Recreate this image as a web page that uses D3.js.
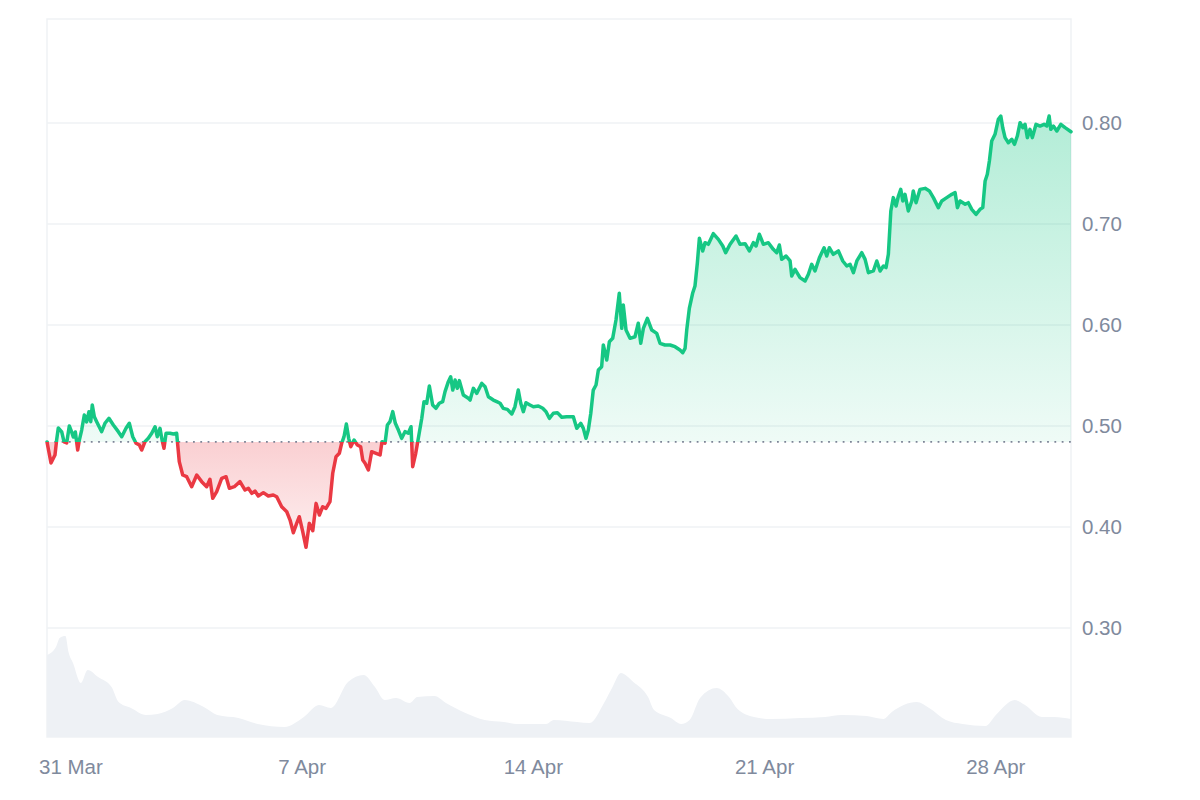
<!DOCTYPE html>
<html>
<head>
<meta charset="utf-8">
<script src="https://cdn.jsdelivr.net/npm/d3@7/dist/d3.min.js"></script>
<style>
  html, body { margin: 0; padding: 0; background: #ffffff; }
  svg { display: block; font-family: "Liberation Sans", Arial, sans-serif; }
</style>
</head>
<body>
<svg id="chart" width="1200" height="800"></svg>
<script>
// ---- data ----
const startTime = Date.UTC(2024, 2, 30, 7); // 30 Mar 2024 07:00
const spanHours = 744;
const baselinePrice = 0.4842;

const priceHours = [0,2.9,5.8,7.0,8.2,10.7,12.4,14.3,16.2,17.9,19.1,20.6,22.3,23.5,25.2,27.1,28.8,30.5,31.8,32.9,34.4,36.1,39.7,42.1,45.0,48.2,51.8,54.3,57.4,59.8,62.3,64.7,67.1,68.8,71.2,73.6,76.1,78.5,80.1,82.1,83.6,85.0,86.5,89.4,91.8,94.2,96.1,98.6,101.5,105.1,108.8,112.4,116.0,118.4,120.4,123.3,126.9,130.1,132.5,136.1,140.2,143.9,146.3,148.8,151.1,153.5,157.2,160.8,164.4,166.9,170.5,174.2,176.6,179.0,181.4,183.3,185.8,188.2,190.6,193.1,195.5,197.9,200.3,202.7,205.6,207.6,210.0,212.4,214.1,215.8,217.5,219.2,220.7,223.1,225.5,227.9,229.4,231.1,233.5,235.9,239.1,242.0,243.4,245.6,247.3,249.2,251.2,253.1,255.3,257.7,260.1,262.5,264.5,265.7,267.9,269.8,272.3,273.9,275.9,277.8,280.2,282.6,285.0,287.5,289.2,291.6,293.3,294.8,296.5,298.1,299.6,302.5,306.1,307.4,309.8,312.2,315.9,318.3,320.7,324.3,326.8,329.2,331.5,334.5,337.7,340.0,342.4,344.2,346.1,348.0,350.9,353.4,357.0,360.2,362.6,365.0,367.9,370.8,374.0,377.6,380.5,382.4,384.9,387.8,389.7,391.6,393.3,395.1,396.9,398.9,400.6,403.0,404.2,406.7,408.6,411.0,413.4,415.8,417.6,418.7,420.7,423.6,427.2,429.6,431.4,433.3,436.2,439.4,443.0,445.4,449.0,452.7,456.3,459.9,461.9,463.6,464.8,466.7,469.2,470.8,472.5,474.0,476.4,478.1,480.5,484.1,487.8,491.0,493.1,496.3,500.6,503.5,507.2,510.3,513.2,515.2,517.6,520.5,524.1,527.7,530.2,532.1,533.8,537.0,539.9,541.1,543.5,547.1,550.8,553.2,555.6,558.0,561.2,564.6,566.5,568.4,571.3,575.0,578.2,581.1,583.5,585.9,588.4,592.0,594.4,596.8,600.4,602.9,605.3,607.7,609.6,611.3,613.1,614.9,616.9,618.6,620.3,621.8,623.4,625.8,628.3,629.4,631.4,634.3,638.0,641.1,644.0,647.6,650.1,653.7,657.4,659.8,661.5,663.4,667.1,669.4,671.9,675.0,677.9,679.9,681.6,683.2,684.7,686.4,688.8,691.2,693.0,694.4,696.1,698.5,701.0,702.9,705.0,707.0,709.0,710.6,712.3,714.2,715.9,718.6,721.5,724.4,726.4,728.1,729.3,731.2,733.7,736.6,739.7,744.0];

const prices = [0.4842,0.4634,0.4713,0.4861,0.4980,0.4941,0.4842,0.4832,0.5000,0.4941,0.4891,0.4941,0.4762,0.4861,0.4960,0.5109,0.5040,0.5142,0.5043,0.5208,0.5092,0.5043,0.4944,0.5027,0.5076,0.5010,0.4944,0.4894,0.4977,0.5027,0.4894,0.4829,0.4812,0.4762,0.4845,0.4878,0.4928,0.4993,0.4894,0.4977,0.4861,0.4779,0.4928,0.4928,0.4921,0.4928,0.4647,0.4515,0.4498,0.4399,0.4515,0.4449,0.4399,0.4472,0.4284,0.4350,0.4482,0.4498,0.4383,0.4399,0.4449,0.4366,0.4383,0.4333,0.4356,0.4307,0.4340,0.4307,0.4317,0.4300,0.4201,0.4151,0.4069,0.3943,0.4036,0.4102,0.3954,0.3799,0.4036,0.3963,0.4234,0.4119,0.4201,0.4185,0.4251,0.4532,0.4696,0.4730,0.4829,0.4894,0.5020,0.4878,0.4795,0.4861,0.4812,0.4795,0.4663,0.4631,0.4564,0.4746,0.4730,0.4713,0.4845,0.4829,0.5010,0.5043,0.5142,0.5027,0.4960,0.4878,0.4944,0.4928,0.4993,0.4597,0.4730,0.4878,0.5076,0.5241,0.5225,0.5396,0.5208,0.5175,0.5225,0.5241,0.5340,0.5439,0.5488,0.5356,0.5455,0.5373,0.5449,0.5307,0.5274,0.5257,0.5373,0.5323,0.5422,0.5389,0.5290,0.5257,0.5241,0.5225,0.5175,0.5165,0.5119,0.5191,0.5356,0.5225,0.5142,0.5231,0.5208,0.5191,0.5198,0.5175,0.5142,0.5076,0.5126,0.5132,0.5086,0.5092,0.5092,0.5092,0.4977,0.5027,0.4977,0.4878,0.4960,0.5126,0.5356,0.5406,0.5554,0.5587,0.5802,0.5653,0.5835,0.5868,0.6050,0.6314,0.5967,0.6198,0.5950,0.5868,0.5884,0.6017,0.5819,0.5967,0.6066,0.5950,0.5917,0.5819,0.5802,0.5802,0.5785,0.5752,0.5726,0.5769,0.5950,0.6165,0.6320,0.6386,0.6611,0.6859,0.6733,0.6815,0.6799,0.6904,0.6848,0.6782,0.6716,0.6799,0.6881,0.6799,0.6805,0.6733,0.6815,0.6782,0.6898,0.6799,0.6815,0.6749,0.6716,0.6792,0.6650,0.6683,0.6634,0.6485,0.6551,0.6469,0.6436,0.6502,0.6601,0.6535,0.6666,0.6765,0.6683,0.6765,0.6700,0.6733,0.6634,0.6584,0.6601,0.6518,0.6634,0.6716,0.6650,0.6518,0.6535,0.6634,0.6535,0.6584,0.6568,0.6700,0.7129,0.7261,0.7178,0.7277,0.7343,0.7228,0.7294,0.7129,0.7228,0.7327,0.7211,0.7343,0.7353,0.7327,0.7261,0.7162,0.7228,0.7261,0.7294,0.7310,0.7162,0.7228,0.7195,0.7211,0.7145,0.7096,0.7145,0.7162,0.7426,0.7492,0.7624,0.7822,0.7888,0.8037,0.8069,0.7953,0.7855,0.7805,0.7839,0.7789,0.7871,0.8003,0.7953,0.7987,0.7855,0.7937,0.7855,0.7987,0.7970,0.7987,0.7970,0.8069,0.7937,0.7970,0.7921,0.7987,0.7954,0.7914];

const volumeHours = [0,6.5,9.2,13.4,15.6,18.9,24.6,29.6,37.1,46.9,52.0,61.0,71.9,80.4,91.5,100.0,113.9,123.7,139.1,153.1,172.6,186.6,197.6,206.2,218.7,230.0,238.3,245.3,253.6,263.5,269.1,281.6,289.9,304.0,318.0,331.9,343.1,362.6,368.2,385.1,394.3,404.7,410.9,416.9,426.0,436.7,441.1,453.3,460.7,466.9,474.5,486.6,495.5,501.7,513.7,525.9,547.1,565.3,577.4,595.6,607.7,613.8,631.9,640.9,653.1,665.2,681.8,689.4,703.1,710.6,722.8,731.7,744.0];
const volumes = [82,90,99,101,85,74,54,67,60,50,35,29,22,23,29,37,30,22,19,13,10,20,32,29,55,62,50,37,39,34,40,41,34,24,17,15,13,13,17,15,14,34,50,64,55,40,27,19,13,17,39,49,40,28,20,18,19,20,22,21,18,25,35,29,17,13,11,22,37,32,20,20,18];

const xTickDates = ["2024-03-31","2024-04-07","2024-04-14","2024-04-21","2024-04-28"];
const xTickLabels = ["31 Mar","7 Apr","14 Apr","21 Apr","28 Apr"];
const yTickValues = [0.30,0.40,0.50,0.60,0.70,0.80];

// ---- layout ----
const L = 47, R = 1071, T = 19, B = 737;
const GREEN = "#16c784", RED = "#ea3943", GRID = "#eff2f5", TEXT = "#808a9d";

const svg = d3.select("#chart");
const toTime = h => new Date(startTime + h * 3600e3);

const x = d3.scaleUtc().domain([toTime(0), toTime(spanHours)]).range([L, R]);
const y = d3.scaleLinear().domain([0.19208, 0.90297]).range([B, T]);
const yv = d3.scaleLinear().domain([0, 120]).range([B, B - 120]);

const priceData = priceHours.map((h, i) => ({ t: toTime(h), v: prices[i] }));
const volData = volumeHours.map((h, i) => ({ t: toTime(h), v: volumes[i] }));

const defs = svg.append("defs");
const yBase = y(baselinePrice);

defs.append("clipPath").attr("id", "above").append("rect")
  .attr("x", 0).attr("y", 0).attr("width", 1200).attr("height", yBase);
defs.append("clipPath").attr("id", "below").append("rect")
  .attr("x", 0).attr("y", yBase).attr("width", 1200).attr("height", 800 - yBase);

const gG = defs.append("linearGradient").attr("id", "gGreen")
  .attr("gradientUnits", "userSpaceOnUse").attr("x1", 0).attr("x2", 0)
  .attr("y1", y(0.81)).attr("y2", yBase);
gG.append("stop").attr("offset", 0).attr("stop-color", GREEN).attr("stop-opacity", 0.33);
gG.append("stop").attr("offset", 1).attr("stop-color", GREEN).attr("stop-opacity", 0.07);

const gR = defs.append("linearGradient").attr("id", "gRed")
  .attr("gradientUnits", "userSpaceOnUse").attr("x1", 0).attr("x2", 0)
  .attr("y1", yBase).attr("y2", y(0.38));
gR.append("stop").attr("offset", 0).attr("stop-color", RED).attr("stop-opacity", 0.24);
gR.append("stop").attr("offset", 1).attr("stop-color", RED).attr("stop-opacity", 0.08);

// frame
svg.append("rect").attr("x", L).attr("y", T).attr("width", R - L).attr("height", B - T)
  .attr("fill", "none").attr("stroke", GRID).attr("stroke-width", 1.5);

// grid
svg.append("g").selectAll("line").data(yTickValues).join("line")
  .attr("x1", L).attr("x2", R)
  .attr("y1", d => y(d)).attr("y2", d => y(d))
  .attr("stroke", GRID).attr("stroke-width", 1.5);

// volume
svg.append("path").datum(volData)
  .attr("d", d3.area().x(d => x(d.t)).y0(B).y1(d => yv(d.v)).curve(d3.curveMonotoneX))
  .attr("fill", "#eef1f5");

// price areas
const area = d3.area().x(d => x(d.t)).y0(yBase).y1(d => y(d.v));
svg.append("path").datum(priceData).attr("d", area)
  .attr("fill", "url(#gGreen)").attr("clip-path", "url(#above)");
svg.append("path").datum(priceData).attr("d", area)
  .attr("fill", "url(#gRed)").attr("clip-path", "url(#below)");

// baseline dotted
svg.append("line").attr("x1", L).attr("x2", R).attr("y1", yBase).attr("y2", yBase)
  .attr("stroke", "#7d8497").attr("stroke-width", 1.8).attr("stroke-dasharray", "1.8,5.5");

// price lines
const line = d3.line().x(d => x(d.t)).y(d => y(d.v));
svg.append("path").datum(priceData).attr("d", line)
  .attr("fill", "none").attr("stroke", GREEN).attr("stroke-width", 3.5)
  .attr("stroke-linejoin", "round").attr("stroke-linecap", "round")
  .attr("clip-path", "url(#above)");
svg.append("path").datum(priceData).attr("d", line)
  .attr("fill", "none").attr("stroke", RED).attr("stroke-width", 3.5)
  .attr("stroke-linejoin", "round").attr("stroke-linecap", "round")
  .attr("clip-path", "url(#below)");

// y axis labels (right)
const yAxis = d3.axisRight(y).tickValues(yTickValues).tickFormat(d3.format(".2f")).tickSize(0).tickPadding(11);
const gy = svg.append("g").attr("transform", `translate(${R},0)`).call(yAxis);
gy.select(".domain").remove();
gy.selectAll("text").attr("fill", TEXT).attr("font-size", 20.5)
  .attr("font-family", "'Liberation Sans', Arial, sans-serif");

// x axis labels
const xTicks = xTickDates.map(s => new Date(s + "T00:00:00Z"));
const xAxis = d3.axisBottom(x).tickValues(xTicks).tickFormat((d, i) => xTickLabels[i]).tickSize(0).tickPadding(22);
const gx = svg.append("g").attr("transform", `translate(0,${B})`).call(xAxis);
gx.select(".domain").remove();
gx.selectAll("text").attr("fill", TEXT).attr("font-size", 20.5)
  .attr("font-family", "'Liberation Sans', Arial, sans-serif");
</script>
</body>
</html>
